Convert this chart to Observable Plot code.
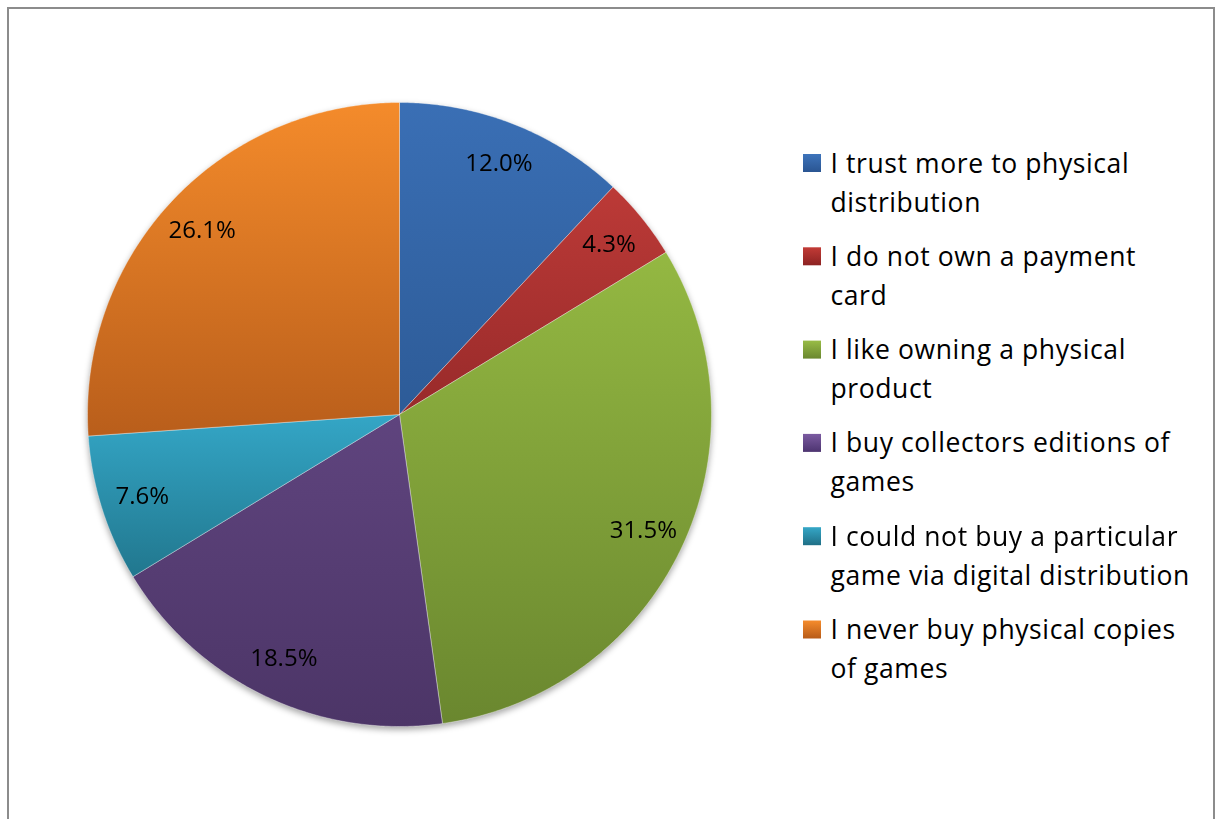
<!DOCTYPE html>
<html>
<head>
<meta charset="utf-8">
<script src="https://cdn.jsdelivr.net/npm/d3@7"></script>
<script src="https://cdn.jsdelivr.net/npm/@observablehq/plot@0.6"></script>
<style>
  html, body { margin: 0; padding: 0; background: #fff; overflow: hidden; }
  #chart { position: absolute; left: 0; top: 0; }
  #frame { position: absolute; left: 7px; top: 7px; width: 1204px; height: 840px;
           border: 2px solid #8c8c8c; border-bottom: none; pointer-events: none; }
</style>
</head>
<body>
<div id="chart"></div>
<div id="frame"></div>
<script>
// ---- data ----
const categories = [
  "I trust more to physical distribution",
  "I do not own a payment card",
  "I like owning a physical product",
  "I buy collectors editions of games",
  "I could not buy a particular game via digital distribution",
  "I never buy physical copies of games"
];
const values = [12.0, 4.3, 31.5, 18.5, 7.6, 26.1];
const pctLabels = ["12.0%", "4.3%", "31.5%", "18.5%", "7.6%", "26.1%"];
const legendLabels = [
  ["I trust more to physical", "distribution"],
  ["I do not own a payment", "card"],
  ["I like owning a physical", "product"],
  ["I buy collectors editions of", "games"],
  ["I could not buy a particular", "game via digital distribution"],
  ["I never buy physical copies", "of games"]
];

// ---- styles ----
const colorTop    = ["#3a6fb5", "#bc3a37", "#94b842", "#5f447e", "#34a6c6", "#f48b2b"];
const colorBottom = ["#2d5b97", "#982a2a", "#6a872f", "#4c3567", "#21778e", "#b95e1b"];
const legendTop    = ["#3e74bb", "#c23b36", "#98bc46", "#7b5ba1", "#35a7c7", "#f58c2c"];
const legendBottom = ["#2a5592", "#8c2222", "#6a872f", "#4d3470", "#1f6f86", "#b85b18"];

// ---- layout ----
const W = 1218, H = 819;
const cx = 399, cy = 414, R = 312;
const labelR = 0.865 * R;
const legX = 830, legSqX = 803, legSq = 18, legTop = 154, legStep = 93.3, legLine = 39;
const font = "'Open Sans', Lato, sans-serif";

const total = d3.sum(values);
let acc = 0;
const slices = values.map((v, i) => {
  const a0 = acc / total * 2 * Math.PI;
  acc += v;
  const a1 = acc / total * 2 * Math.PI;
  return {i, v, a0, a1, mid: (a0 + a1) / 2};
});

function slicePts(s) {
  const pts = [{x: cx, y: cy}];
  const n = Math.max(2, Math.ceil((s.a1 - s.a0) / (Math.PI / 360)));
  for (let k = 0; k <= n; k++) {
    const a = s.a0 + (s.a1 - s.a0) * k / n;
    pts.push({x: cx + R * Math.sin(a), y: cy - R * Math.cos(a)});
  }
  pts.push({x: cx, y: cy});
  return pts;
}

const legendRows = [];
legendLabels.forEach((lines, i) => {
  lines.forEach((t, j) => legendRows.push({i, text: t, y: legTop + legSq + i * legStep + j * legLine}));
});
const legendSquares = categories.map((c, i) => ({i, c, y1: legTop + i * legStep, y2: legTop + i * legStep + legSq}));

const plot = Plot.plot({
  width: W, height: H,
  margin: 0,
  x: {domain: [0, W], range: [0, W], axis: null},
  y: {domain: [0, H], range: [0, H], axis: null},
  style: {fontFamily: font, background: "#fff", color: "#000"},
  marks: [
    ...slices.map(s => Plot.line(slicePts(s), {
      x: "x", y: "y", fill: `url(#pg${s.i})`,
      stroke: "rgba(255,255,255,0.45)", strokeWidth: 0.8, curve: "linear"
    })),
    Plot.text(slices, {
      x: s => cx + labelR * Math.sin(s.mid),
      y: s => cy - labelR * Math.cos(s.mid),
      text: s => pctLabels[s.i],
      fontSize: 24, fill: "#000", textAnchor: "middle", lineAnchor: "middle"
    }),
    ...legendSquares.map(d => Plot.rect([d], {
      x1: () => legSqX, x2: () => legSqX + legSq, y1: "y1", y2: "y2", fill: `url(#lg${d.i})`
    })),
    Plot.text(legendRows, {
      x: () => legX, y: "y", text: "text",
      fontSize: 26.5, fill: "#000", textAnchor: "start", lineAnchor: "bottom"
    })
  ]
});

const svg = d3.select(plot);
const defs = svg.insert("defs", ":first-child");
colorTop.forEach((c, i) => {
  const g = defs.append("linearGradient").attr("id", `pg${i}`).attr("x1", 0).attr("y1", 0).attr("x2", 0).attr("y2", 1);
  g.append("stop").attr("offset", "0%").attr("stop-color", c);
  g.append("stop").attr("offset", "100%").attr("stop-color", colorBottom[i]);
  const l = defs.append("linearGradient").attr("id", `lg${i}`).attr("x1", 0).attr("y1", 0).attr("x2", 0).attr("y2", 1);
  l.append("stop").attr("offset", "0%").attr("stop-color", legendTop[i]);
  l.append("stop").attr("offset", "100%").attr("stop-color", legendBottom[i]);
});
const textGroups = plot.querySelectorAll('g[aria-label="text"]');
if (textGroups.length > 1) textGroups[textGroups.length - 1].style.letterSpacing = "0.6px";
const lineGroups = plot.querySelectorAll('g[aria-label="line"]');
if (lineGroups.length) {
  const wrap = document.createElementNS("http://www.w3.org/2000/svg", "g");
  wrap.setAttribute("style", "filter: drop-shadow(0px 3px 3px rgba(0,0,0,0.35))");
  lineGroups[0].parentNode.insertBefore(wrap, lineGroups[0]);
  lineGroups.forEach(g => wrap.appendChild(g));
}
document.getElementById("chart").appendChild(plot);
</script>
</body>
</html>
